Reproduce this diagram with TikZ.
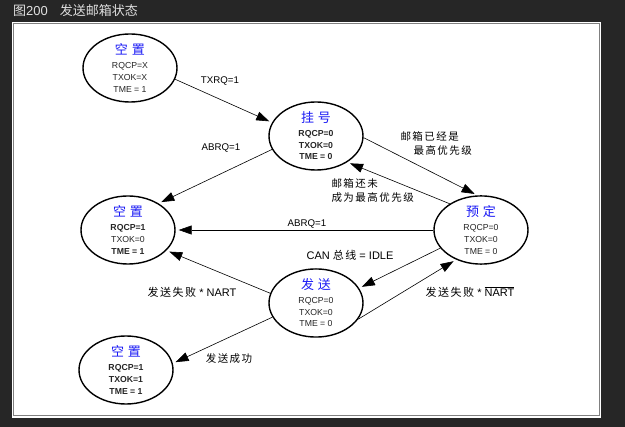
\documentclass[tikz,border=0pt]{standalone}
\usepackage{fontspec}
\setmainfont{Liberation Sans}
\newfontfamily\cjk{Noto Sans CJK SC}
\newfontfamily\cjkls[LetterSpace=14]{Noto Sans CJK SC}
\usetikzlibrary{arrows.meta,shapes.geometric}
\definecolor{pagedark}{RGB}{38,38,38}
\definecolor{titleblue}{RGB}{25,25,245}
\newcommand{\statename}[1]{{\cjk\fontsize{13}{14}\selectfont\color{titleblue}#1}}

\begin{document}
\begin{tikzpicture}[x=1pt,y=-1pt,>={Triangle[length=13pt,width=9pt]}]
  \tikzstyle{state}=[draw,ellipse,line width=1.4pt,minimum width=94pt,minimum height=56pt,inner sep=0pt,align=center,font=\fontsize{8.7}{11.7}\selectfont,text=black!85]
  \tikzstyle{trans}=[->,line width=0.6pt,shorten >=3pt]
  \tikzstyle{lbl}=[font=\fontsize{9.7}{12}\selectfont]
  \tikzstyle{lblbig}=[font=\fontsize{11}{14}\selectfont]
  \tikzstyle{cjklbl}=[font=\cjkls\fontsize{10.5}{14}\selectfont]
  % page and frame
  \fill[pagedark] (0,0) rectangle (625,427);
  \useasboundingbox (0,0) rectangle (625,427);
  \fill[white] (12,22) rectangle (601,418);
  \draw[gray,line width=0.8pt] (13.5,23.5) rectangle (599.5,415.5);
  \node[anchor=west,inner sep=0pt,text=white!88!black,font=\fontsize{13}{14}\selectfont] (caption) at (13,11) {{\cjk 图}200\hspace{12pt}{\cjk 发送邮箱状态}};
  % states
  \node[state] (empty1) at (130,68) {\statename{空\hspace{4pt}置}\\[2pt]RQCP=X\\TXOK=X\\TME = 1};
  \node[state] (pending) at (316,136) {\statename{挂\hspace{4pt}号}\\[2pt]\textbf{RQCP=0}\\\textbf{TXOK=0}\\\textbf{TME = 0}};
  \node[state] (empty2) at (128,230) {\statename{空\hspace{4pt}置}\\[2pt]\textbf{RQCP=1}\\TXOK=0\\\textbf{TME = 1}};
  \node[state] (scheduled) at (481,230) {\statename{预\hspace{4pt}定}\\[2pt]RQCP=0\\TXOK=0\\TME = 0};
  \node[state] (transmit) at (316,303) {\statename{发\hspace{4pt}送}\\[2pt]RQCP=0\\TXOK=0\\TME = 0};
  \node[state] (empty3) at (126,370) {\statename{空\hspace{4pt}置}\\[2pt]\textbf{RQCP=1}\\\textbf{TXOK=1}\\\textbf{TME = 1}};
  % transitions
  \draw[trans] (empty1.-14) -- (pending.163);
  \draw[trans] (pending.197) -- (empty2.41);
  \draw[trans] (pending.-2) -- (scheduled.96);
  \draw[trans] (scheduled.140) -- (pending.-40);
  \draw[trans] (scheduled) -- (empty2);
  \draw[trans] (scheduled.204) -- (transmit.19);
  \draw[trans] (transmit.-21) -- (scheduled.230);
  \draw[trans] (transmit.168) -- (empty2.-28);
  \draw[trans] (transmit.198) -- (empty3.8);
  % labels
  \node[lbl] (txrq) at (220,81) {TXRQ=1};
  \node[lbl] (abrqup) at (221,148) {ABRQ=1};
  \node[cjklbl,anchor=west,align=left] (highest) at (397,144) {邮箱已经是\\\hspace*{13pt}最高优先级};
  \node[cjklbl,anchor=west,align=left] (nothighest) at (328,191) {邮箱还未\\成为最高优先级};
  \node[lbl] (abrqmid) at (307,224) {ABRQ=1};
  \node[lblbig] (busidle) at (350,255) {CAN {\cjkls 总线} = IDLE};
  \node[lblbig] (failnart) at (192,292) {{\cjkls 发送失败} * NART};
  \node[lblbig] (failnotnart) at (470,292) {{\cjkls 发送失败} * $\overline{\mbox{NART}}$};
  \node[cjklbl] (success) at (229,359) {发送成功};
\end{tikzpicture}
\end{document}
